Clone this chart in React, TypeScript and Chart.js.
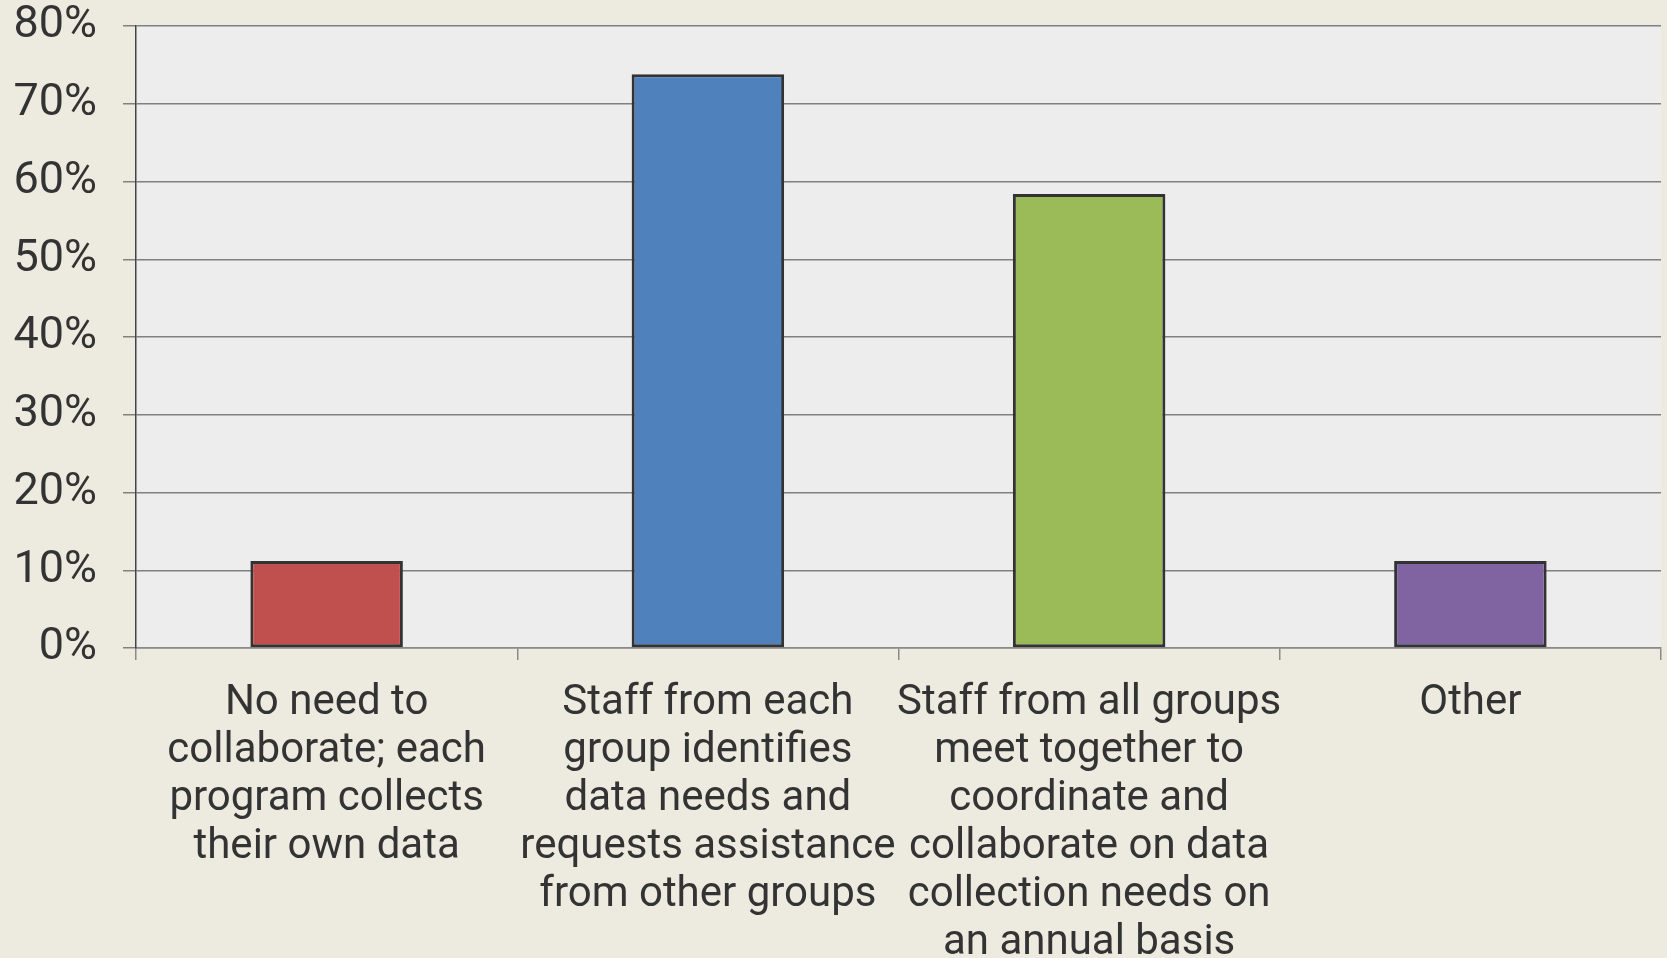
import React, { useEffect, useRef } from 'react';
import { Chart, registerables } from 'chart.js';

Chart.register(...registerables);

const categories: string[][] = [
  ['No need to', 'collaborate; each', 'program collects', 'their own data'],
  ['Staff from each', 'group identifies', 'data needs and', 'requests assistance', 'from other groups'],
  ['Staff from all groups', 'meet together to', 'coordinate and', 'collaborate on data', 'collection needs on', 'an annual basis'],
  ['Other'],
];
const values: number[] = [11.2, 73.8, 58.4, 11.2];
const barColors: string[] = ['#C0504D', '#4F81BD', '#9BBB59', '#8064A2'];
const yMin = 0;
const yMax = 80;
const yStep = 10;

const FONT = 'Roboto, "Liberation Sans", sans-serif';

export default function App() {
  const canvasRef = useRef<HTMLCanvasElement | null>(null);

  useEffect(() => {
    document.body.style.margin = '0';
    document.body.style.background = '#EDEBE0';
    const canvas = canvasRef.current;
    if (!canvas) return;

    const plotBg = {
      id: 'plotBg',
      beforeDraw(chart: any) {
        const { ctx, chartArea } = chart;
        ctx.save();
        ctx.fillStyle = '#EDEDED';
        ctx.fillRect(chartArea.left, chartArea.top, chartArea.right - chartArea.left, chartArea.bottom - chartArea.top);
        ctx.restore();
      },
    };

    const chart = new Chart(canvas, {
      type: 'bar',
      data: {
        labels: categories,
        datasets: [
          {
            data: values,
            backgroundColor: barColors,
            borderColor: '#333333',
            borderWidth: 3,
            borderSkipped: false,
            barPercentage: 0.4,
            categoryPercentage: 1,
          },
        ],
      },
      options: {
        animation: false,
        responsive: true,
        maintainAspectRatio: false,
        layout: { padding: { top: 26, right: 6, left: 0, bottom: 0 } },
        plugins: {
          legend: { display: false },
          tooltip: { enabled: false },
        },
        scales: {
          x: {
            offset: true,
            grid: {
              offset: true,
              drawOnChartArea: false,
              drawTicks: true,
              tickLength: 12,
              color: '#8a8a8a',
              lineWidth: 1.5,
            },
            border: { display: true, color: '#8a8a8a', width: 1.5 },
            ticks: {
              font: { family: FONT, size: 42, lineHeight: 1.14 },
              color: '#333333',
              padding: 20,
              maxRotation: 0,
              minRotation: 0,
              autoSkip: false,
            },
            afterFit(scale: any) {
              scale.height = 310;
              scale.paddingLeft = 0;
              scale.paddingRight = 0;
            },
          },
          y: {
            min: yMin,
            max: yMax,
            grid: {
              color: '#808080',
              lineWidth: 1.5,
              drawTicks: true,
              tickLength: 13,
            },
            border: { display: true, color: '#444444', width: 1.5 },
            ticks: {
              stepSize: yStep,
              font: { family: FONT, size: 45, lineHeight: 1.1 },
              color: '#333333',
              padding: 26,
              callback: (v: any) => `${v}%`,
            },
            afterFit(scale: any) {
              scale.width = 136;
              scale.paddingTop = 0;
              scale.paddingBottom = 0;
            },
          },
        },
      },
      plugins: [plotBg],
    });

    return () => chart.destroy();
  }, []);

  return (
    <div style={{ position: 'fixed', left: 0, top: 0, width: 1667, height: 958, background: '#EDEBE0' }}>
      <canvas ref={canvasRef} />
    </div>
  );
}
